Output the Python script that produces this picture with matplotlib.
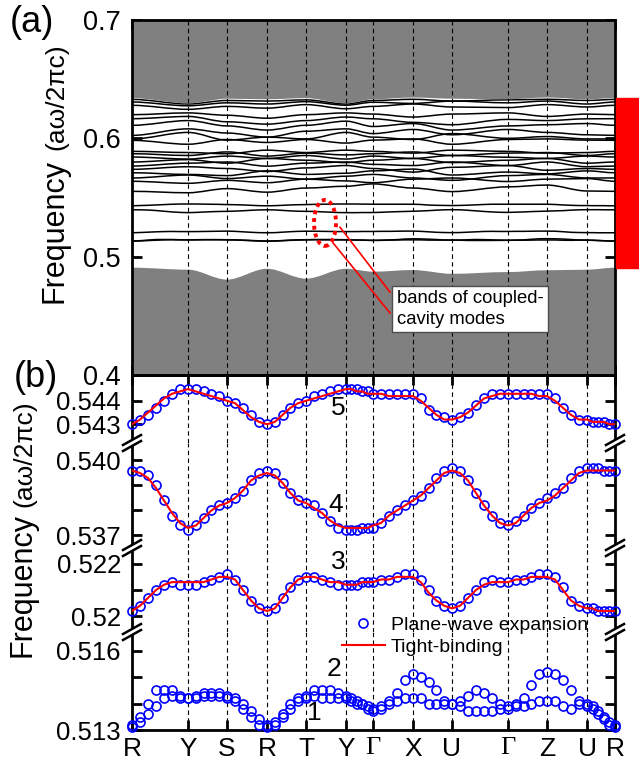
import numpy as np
import matplotlib
matplotlib.use('Agg')
import matplotlib.pyplot as plt
import matplotlib.transforms as mtransforms
from matplotlib.path import Path
from matplotlib.patches import PathPatch, Ellipse, Rectangle, Polygon
from matplotlib.lines import Line2D

plt.rcParams['font.family'] = ['Liberation Sans', 'DejaVu Sans']

# k-path: positions of the high-symmetry points along the path
kpos = [0, 56, 95, 135, 174, 214, 241, 281, 320, 376, 415, 455, 483]
klabels = ['R', 'Y', 'S', 'R', 'T', 'Y', 'Γ', 'X', 'U', 'Γ', 'Z', 'U', 'R']
nseg = [7, 5, 5, 5, 5, 5, 5, 5, 7, 5, 5, 5]   # samples per segment

# (b) plane-wave expansion (circles) and tight-binding (lines), one value per k sample
band5_pwe = [0.5430, 0.5432, 0.5434, 0.5437, 0.5440, 0.5443, 0.5445, 0.5445,
             0.5445, 0.5444, 0.5443, 0.5442, 0.5440,
             0.5439, 0.5437, 0.5434, 0.5431, 0.5430,
             0.5431, 0.5434, 0.5437, 0.5439, 0.5440,
             0.5442, 0.5443, 0.5444, 0.5445, 0.5445,
             0.5445, 0.5445, 0.5444, 0.5444, 0.5443,
             0.5443, 0.5443, 0.5443, 0.5443, 0.5443,
             0.5441, 0.5436, 0.5434, 0.5433, 0.5432,
             0.5433, 0.5435, 0.5438, 0.5441, 0.5443, 0.5443, 0.5443,
             0.5443, 0.5443, 0.5443, 0.5443, 0.5443,
             0.5441, 0.5437, 0.5434, 0.5432, 0.5432,
             0.5431, 0.5431, 0.5431, 0.5430, 0.5430]
band5_tb = [0.5430, 0.5432, 0.5435, 0.5438, 0.5441, 0.5443, 0.5444, 0.5445,
            0.5444, 0.5443, 0.5442, 0.5441, 0.5440,
            0.5439, 0.5436, 0.5433, 0.5431, 0.5430,
            0.5431, 0.5434, 0.5437, 0.5439, 0.5440,
            0.5441, 0.5442, 0.5443, 0.5444, 0.5445,
            0.5445, 0.5444, 0.5444, 0.5443, 0.5443,
            0.5443, 0.5442, 0.5442, 0.5442, 0.5442,
            0.5440, 0.5437, 0.5434, 0.5432, 0.5432,
            0.5433, 0.5435, 0.5438, 0.5441, 0.5442, 0.5443, 0.5443,
            0.5443, 0.5443, 0.5443, 0.5442, 0.5442,
            0.5440, 0.5437, 0.5434, 0.5432, 0.5432,
            0.5431, 0.5431, 0.5431, 0.5430, 0.5430]
band4_pwe = [0.5396, 0.5396, 0.5394, 0.5390, 0.5384, 0.5378, 0.5374, 0.5372,
             0.5374, 0.5377, 0.5380, 0.5382, 0.5383,
             0.5385, 0.5388, 0.5392, 0.5395, 0.5396,
             0.5395, 0.5391, 0.5387, 0.5384, 0.5383,
             0.5382, 0.5379, 0.5376, 0.5373, 0.5372,
             0.5372, 0.5372, 0.5373, 0.5373, 0.5373,
             0.5375, 0.5378, 0.5380, 0.5382, 0.5384,
             0.5386, 0.5389, 0.5393, 0.5396, 0.5397,
             0.5396, 0.5392, 0.5387, 0.5382, 0.5378, 0.5375, 0.5374,
             0.5376, 0.5378, 0.5381, 0.5383, 0.5385,
             0.5387, 0.5389, 0.5393, 0.5396, 0.5397,
             0.5397, 0.5397, 0.5396, 0.5396, 0.5396]
band4_tb = [0.5396, 0.5395, 0.5393, 0.5389, 0.5384, 0.5379, 0.5375, 0.5373,
            0.5374, 0.5377, 0.5380, 0.5382, 0.5383,
            0.5385, 0.5388, 0.5392, 0.5394, 0.5395,
            0.5394, 0.5391, 0.5387, 0.5384, 0.5383,
            0.5381, 0.5379, 0.5376, 0.5374, 0.5373,
            0.5373, 0.5373, 0.5373, 0.5373, 0.5374,
            0.5375, 0.5378, 0.5380, 0.5382, 0.5384,
            0.5386, 0.5389, 0.5392, 0.5395, 0.5396,
            0.5395, 0.5392, 0.5387, 0.5382, 0.5378, 0.5375, 0.5374,
            0.5375, 0.5378, 0.5381, 0.5383, 0.5384,
            0.5386, 0.5389, 0.5392, 0.5395, 0.5396,
            0.5396, 0.5396, 0.5396, 0.5396, 0.5396]
band3_pwe = [0.5202, 0.5204, 0.5207, 0.5210, 0.5212, 0.5213, 0.5212, 0.5212,
             0.5212, 0.5213, 0.5214, 0.5215, 0.5216,
             0.5214, 0.5210, 0.5206, 0.5203, 0.5202,
             0.5203, 0.5207, 0.5211, 0.5214, 0.5215,
             0.5215, 0.5214, 0.5213, 0.5212, 0.5212,
             0.5212, 0.5212, 0.5213, 0.5213, 0.5213,
             0.5214, 0.5214, 0.5215, 0.5216, 0.5216,
             0.5214, 0.5210, 0.5206, 0.5204, 0.5203,
             0.5204, 0.5207, 0.5210, 0.5213, 0.5214, 0.5213, 0.5213,
             0.5214, 0.5214, 0.5215, 0.5216, 0.5216,
             0.5215, 0.5211, 0.5206, 0.5204, 0.5203,
             0.5203, 0.5202, 0.5202, 0.5202, 0.5202]
band3_tb = [0.5202, 0.5204, 0.5207, 0.5210, 0.5212, 0.5213, 0.5213, 0.5213,
            0.5213, 0.5213, 0.5214, 0.5215, 0.5215,
            0.5214, 0.5210, 0.5206, 0.5203, 0.5202,
            0.5203, 0.5207, 0.5211, 0.5214, 0.5215,
            0.5215, 0.5214, 0.5213, 0.5213, 0.5212,
            0.5212, 0.5212, 0.5213, 0.5213, 0.5213,
            0.5214, 0.5214, 0.5215, 0.5215, 0.5215,
            0.5213, 0.5209, 0.5206, 0.5204, 0.5203,
            0.5204, 0.5207, 0.5210, 0.5212, 0.5213, 0.5213, 0.5213,
            0.5214, 0.5214, 0.5215, 0.5215, 0.5215,
            0.5214, 0.5210, 0.5206, 0.5204, 0.5203,
            0.5203, 0.5202, 0.5202, 0.5202, 0.5202]
band2_pwe = [0.5132, 0.5135, 0.5140, 0.5145, 0.5145, 0.5145, 0.5143, 0.5142,
             0.5143, 0.5144, 0.5144, 0.5144, 0.5143,
             0.5142, 0.5140, 0.5137, 0.5134, 0.5132,
             0.5133, 0.5136, 0.5140, 0.5142, 0.5143,
             0.5145, 0.5145, 0.5145, 0.5144, 0.5143,
             0.5142, 0.5141, 0.5140, 0.5139, 0.5138,
             0.5139, 0.5141, 0.5144, 0.5149, 0.5151,
             0.5150, 0.5148, 0.5145, 0.5141, 0.5140,
             0.5141, 0.5143, 0.5145, 0.5144, 0.5142, 0.5140, 0.5139,
             0.5140, 0.5142, 0.5147, 0.5151, 0.5152,
             0.5151, 0.5149, 0.5145, 0.5141, 0.5140,
             0.5139, 0.5137, 0.5135, 0.5133, 0.5132]
band1_pwe = [0.5131, 0.5133, 0.5136, 0.5139, 0.5142, 0.5143, 0.5142, 0.5142,
             0.5142, 0.5143, 0.5143, 0.5143, 0.5142,
             0.5141, 0.5138, 0.5135, 0.5132, 0.5131,
             0.5132, 0.5135, 0.5138, 0.5141, 0.5142,
             0.5143, 0.5142, 0.5142, 0.5142, 0.5142,
             0.5141, 0.5140, 0.5140, 0.5138, 0.5137,
             0.5138, 0.5140, 0.5141, 0.5142, 0.5142,
             0.5142, 0.5140, 0.5140, 0.5140, 0.5140,
             0.5139, 0.5137, 0.5137, 0.5137, 0.5137, 0.5138, 0.5138,
             0.5139, 0.5139, 0.5140, 0.5141, 0.5141,
             0.5141, 0.5139, 0.5138, 0.5140, 0.5139,
             0.5138, 0.5136, 0.5134, 0.5132, 0.5131]

# (a) edges of the band continuum (gray) at the k points
gap_top = [0.6340, 0.6295, 0.6335, 0.6330, 0.6340, 0.6295, 0.6330,
           0.6345, 0.6335, 0.6330, 0.6345, 0.6330, 0.6340]
gap_bottom = [0.4907, 0.4890, 0.4806, 0.4898, 0.4814, 0.4898, 0.4873,
              0.4887, 0.4855, 0.4870, 0.4885, 0.4890, 0.4907]

# (a) bands above the coupled-cavity modes, values at the k points
upper_bands = [
    [0.5552, 0.5540, 0.5575, 0.5545, 0.5580, 0.5595, 0.5615, 0.5580, 0.5550, 0.5590, 0.5605, 0.5555, 0.5552],
    [0.5637, 0.5620, 0.5645, 0.5625, 0.5655, 0.5640, 0.5625, 0.5655, 0.5665, 0.5635, 0.5655, 0.5660, 0.5637],
    [0.5665, 0.5690, 0.5660, 0.5680, 0.5655, 0.5680, 0.5695, 0.5665, 0.5645, 0.5685, 0.5695, 0.5665, 0.5665],
    [0.5709, 0.5695, 0.5685, 0.5725, 0.5695, 0.5705, 0.5725, 0.5740, 0.5690, 0.5715, 0.5700, 0.5725, 0.5709],
    [0.5738, 0.5760, 0.5745, 0.5720, 0.5750, 0.5770, 0.5745, 0.5715, 0.5755, 0.5770, 0.5730, 0.5745, 0.5738],
    [0.5766, 0.5790, 0.5800, 0.5765, 0.5790, 0.5800, 0.5780, 0.5770, 0.5800, 0.5770, 0.5800, 0.5760, 0.5766],
    [0.5800, 0.5820, 0.5790, 0.5830, 0.5815, 0.5795, 0.5815, 0.5830, 0.5795, 0.5815, 0.5830, 0.5790, 0.5800],
    [0.5842, 0.5825, 0.5850, 0.5830, 0.5855, 0.5825, 0.5850, 0.5830, 0.5855, 0.5840, 0.5830, 0.5850, 0.5842],
    [0.5870, 0.5855, 0.5885, 0.5850, 0.5875, 0.5860, 0.5870, 0.5885, 0.5855, 0.5875, 0.5880, 0.5855, 0.5870],
    [0.5890, 0.5880, 0.5870, 0.5900, 0.5880, 0.5900, 0.5890, 0.5875, 0.5900, 0.5890, 0.5875, 0.5880, 0.5890],
    [0.5983, 0.5950, 0.5990, 0.5965, 0.5990, 0.5960, 0.5985, 0.5995, 0.5950, 0.5990, 0.5995, 0.5985, 0.5983],
    [0.5995, 0.6050, 0.5985, 0.6010, 0.5995, 0.6050, 0.6010, 0.5990, 0.6040, 0.6000, 0.6015, 0.5995, 0.5995],
    [0.6025, 0.6080, 0.6045, 0.6010, 0.6060, 0.6080, 0.6040, 0.6075, 0.6030, 0.6075, 0.6050, 0.6030, 0.6025],
    [0.6110, 0.6150, 0.6105, 0.6070, 0.6110, 0.6145, 0.6100, 0.6125, 0.6070, 0.6105, 0.6115, 0.6125, 0.6110],
    [0.6166, 0.6185, 0.6140, 0.6120, 0.6150, 0.6180, 0.6165, 0.6135, 0.6115, 0.6160, 0.6150, 0.6165, 0.6166],
    [0.6200, 0.6215, 0.6195, 0.6170, 0.6200, 0.6215, 0.6205, 0.6180, 0.6205, 0.6215, 0.6185, 0.6205, 0.6200],
    [0.6279, 0.6245, 0.6270, 0.6255, 0.6285, 0.6250, 0.6270, 0.6290, 0.6265, 0.6260, 0.6285, 0.6265, 0.6279],
    [0.6307, 0.6275, 0.6300, 0.6290, 0.6310, 0.6280, 0.6305, 0.6295, 0.6315, 0.6300, 0.6315, 0.6290, 0.6307],
    [0.6329, 0.6290, 0.6320, 0.6315, 0.6325, 0.6290, 0.6320, 0.6330, 0.6315, 0.6325, 0.6330, 0.6320, 0.6329],
]

# k samples used for the (b) data
kx = [kpos[0]]
for i, n in enumerate(nseg):
    kx += list(np.linspace(kpos[i], kpos[i + 1], n + 1)[1:])
kx = np.array(kx)

W, H = 639, 766


def fx(x):
    return x / W


def fy(y):
    return 1 - y / H


def smooth_path(xs, ys):
    """Bezier path through the k-point values, flat at each k point."""
    verts = [(xs[0], ys[0])]
    codes = [Path.MOVETO]
    for i in range(len(xs) - 1):
        d = (xs[i + 1] - xs[i]) / 3
        verts += [(xs[i] + d, ys[i]), (xs[i + 1] - d, ys[i + 1]), (xs[i + 1], ys[i + 1])]
        codes += [Path.CURVE4] * 3
    return verts, codes


fig = plt.figure(figsize=(6.39, 7.66), dpi=100)

# ---------------- panel (a) ----------------
ax_a = fig.add_axes([fx(132), fy(375), fx(615) - fx(132), fy(20) - fy(375)])
gray = '#808080'

verts, codes = smooth_path(kpos, gap_top)
verts += [(kpos[-1], 0.7), (kpos[0], 0.7), (kpos[0], 0.7)]
codes += [Path.LINETO, Path.LINETO, Path.CLOSEPOLY]
ax_a.add_patch(PathPatch(Path(verts, codes), fc=gray, ec='none', zorder=2))

verts, codes = smooth_path(kpos, gap_bottom)
verts += [(kpos[-1], 0.4), (kpos[0], 0.4), (kpos[0], 0.4)]
codes += [Path.LINETO, Path.LINETO, Path.CLOSEPOLY]
ax_a.add_patch(PathPatch(Path(verts, codes), fc=gray, ec='none', zorder=2))

for b in upper_bands:
    verts, codes = smooth_path(kpos, b)
    ax_a.add_patch(PathPatch(Path(verts, codes), fill=False, ec='k', lw=1.1, zorder=1))
for b in [band1_pwe, band2_pwe, band3_pwe, band4_pwe, band5_pwe]:
    ax_a.plot(kx, b, color='k', lw=1.1, zorder=1)

for k in kpos[1:-1]:
    ax_a.axvline(k, color='k', lw=0.8, ls=(0, (4, 3)), zorder=3)

ax_a.set_xlim(0, 483)
ax_a.set_ylim(0.4, 0.7)
ax_a.set_yticks([0.4, 0.5, 0.6, 0.7])
ax_a.set_yticklabels(['0.4', '0.5', '0.6', '0.7'])
ax_a.set_xticks(kpos)
ax_a.set_xticklabels([])
ax_a.tick_params(direction='in', length=7, width=2, top=True, right=True,
                 labelsize=19.5, pad=8)
for s in ax_a.spines.values():
    s.set_linewidth(2)
    s.set_zorder(6)

# annotation of the coupled-cavity bands
ax_a.add_patch(Ellipse((193, 0.5285), 22, 0.0389, fill=False, ec='red', lw=2.8,
                       ls=(0, (1, 1)), zorder=5))
ax_a.plot([208, 258], [0.5249, 0.4700], color='red', lw=1.2, zorder=5)
ax_a.plot([201, 258], [0.5117, 0.4524], color='red', lw=1.2, zorder=5)
ax_a.text(265, 0.4558, 'bands of coupled-\ncavity modes', fontsize=13.3,
          ha='left', va='center', linespacing=1.25, zorder=6,
          bbox=dict(boxstyle='square,pad=0.25', fc='white', ec='0.3', lw=1))

# red bar marking the gap
trans = mtransforms.blended_transform_factory(fig.transFigure, ax_a.transData)
fig.add_artist(Rectangle((fx(616), gap_bottom[0]), 1 - fx(616),
                         gap_top[0] - gap_bottom[0], transform=trans,
                         color='red', clip_on=False))

# ---------------- panel (b) ----------------
seg_px = [(375, 443), (443, 548), (548, 632), (632, 730)]
seg_lims = [(0.5422, 0.5451), (0.5365, 0.5407), (0.5194, 0.5226), (0.5130, 0.5167)]
seg_ticks = [[0.543, 0.544], [0.537, 0.538, 0.539, 0.540],
             [0.520, 0.521, 0.522], [0.513, 0.514, 0.515, 0.516]]
seg_labels = [['0.543', '0.544'], ['0.537', '', '', '0.540'],
              ['0.52', '', '0.522'], ['0.513', '', '', '0.516']]

bx = []
for i, (top, bot) in enumerate(seg_px):
    ax = fig.add_axes([fx(132), fy(bot), fx(615) - fx(132), fy(top) - fy(bot)])
    ax.set_xlim(0, 483)
    ax.set_ylim(*seg_lims[i])
    ax.set_yticks(seg_ticks[i])
    ax.set_yticklabels(seg_labels[i])
    ax.set_xticks(kpos)
    ax.tick_params(axis='y', direction='in', length=7, width=2, left=True,
                   right=True, labelsize=18.5, pad=8)
    ax.tick_params(axis='x', direction='in', length=7, width=2,
                   top=(i == 0), bottom=(i == 3), labelbottom=(i == 3),
                   labelsize=19, pad=5)
    for s in ax.spines.values():
        s.set_linewidth(2)
    if i > 0:
        ax.spines['top'].set_visible(False)
    if i < 3:
        ax.spines['bottom'].set_visible(False)
    for k in kpos[1:-1]:
        ax.axvline(k, color='k', lw=0.8, ls=(0, (4, 3)), zorder=0)
    ax.patch.set_alpha(0)
    bx.append(ax)

bx[3].set_xticklabels(klabels)
for lbl in bx[3].get_xticklabels():
    if lbl.get_text() == 'Γ':
        lbl.set_fontfamily('Liberation Serif')

circ = dict(ls='none', marker='o', mfc='none', mec='#0000ff', ms=6.5, mew=1.2,
            clip_on=False, zorder=3)
bx[0].plot(kx, band5_pwe, **circ)
bx[0].plot(kx, band5_tb, color='#ff0000', lw=1.5, zorder=4)
bx[1].plot(kx, band4_pwe, **circ)
bx[1].plot(kx, band4_tb, color='#ff0000', lw=1.5, zorder=4)
bx[2].plot(kx, band3_pwe, **circ)
bx[2].plot(kx, band3_tb, color='#ff0000', lw=1.5, zorder=4)
bx[3].plot(kx, band2_pwe, **circ)
bx[3].plot(kx, band1_pwe, **circ)

# band numbers
for txt, (x, y) in zip(['5', '4', '3', '2', '1'],
                       [(338, 408), (336, 505), (338, 562), (334, 669), (314, 713)]):
    fig.text(fx(x), fy(y), txt, fontsize=19, ha='center', va='center')

# break marks on both spines
for yb in [443, 548, 632]:
    for xb in [132, 615]:
        dx, dy, g = 9, 5, 3
        fig.add_artist(Polygon([(fx(xb - dx), fy(yb - g + dy)), (fx(xb + dx), fy(yb - g - dy)),
                                (fx(xb + dx), fy(yb + g - dy)), (fx(xb - dx), fy(yb + g + dy))],
                               closed=True, transform=fig.transFigure, fc='white', ec='none'))
        for sgn in (-1, 1):
            fig.add_artist(Line2D([fx(xb - dx), fx(xb + dx)],
                                  [fy(yb + sgn * g + dy), fy(yb + sgn * g - dy)],
                                  transform=fig.transFigure, color='k', lw=1.8))

handles = [Line2D([], [], ls='none', marker='o', mfc='none', mec='#0000ff', ms=6.5, mew=1.2),
           Line2D([], [], color='#ff0000', lw=1.5)]
fig.legend(handles, ['Plane-wave expansion', 'Tight-binding'], loc='upper left',
           bbox_to_anchor=(fx(342), fy(616)), frameon=False, fontsize=14,
           handlelength=2.2, handletextpad=0.3, labelspacing=0.25,
           borderpad=0, borderaxespad=0)

# axis labels and panel letters
for (xb, yf, yu) in [(63, 303, 150), (31, 657, 507)]:
    fig.text(fx(xb), fy(yf), 'Frequency', fontsize=22, rotation=90,
             rotation_mode='anchor', ha='left', va='baseline')
    fig.text(fx(xb), fy(yu), '(aω/2πc)', fontsize=19, rotation=90,
             rotation_mode='anchor', ha='left', va='baseline')
fig.text(fx(32), fy(23), '(a)', fontsize=26, ha='center', va='center')
fig.text(fx(36), fy(377), '(b)', fontsize=26, ha='center', va='center')

fig.savefig('out.png', dpi=100)
